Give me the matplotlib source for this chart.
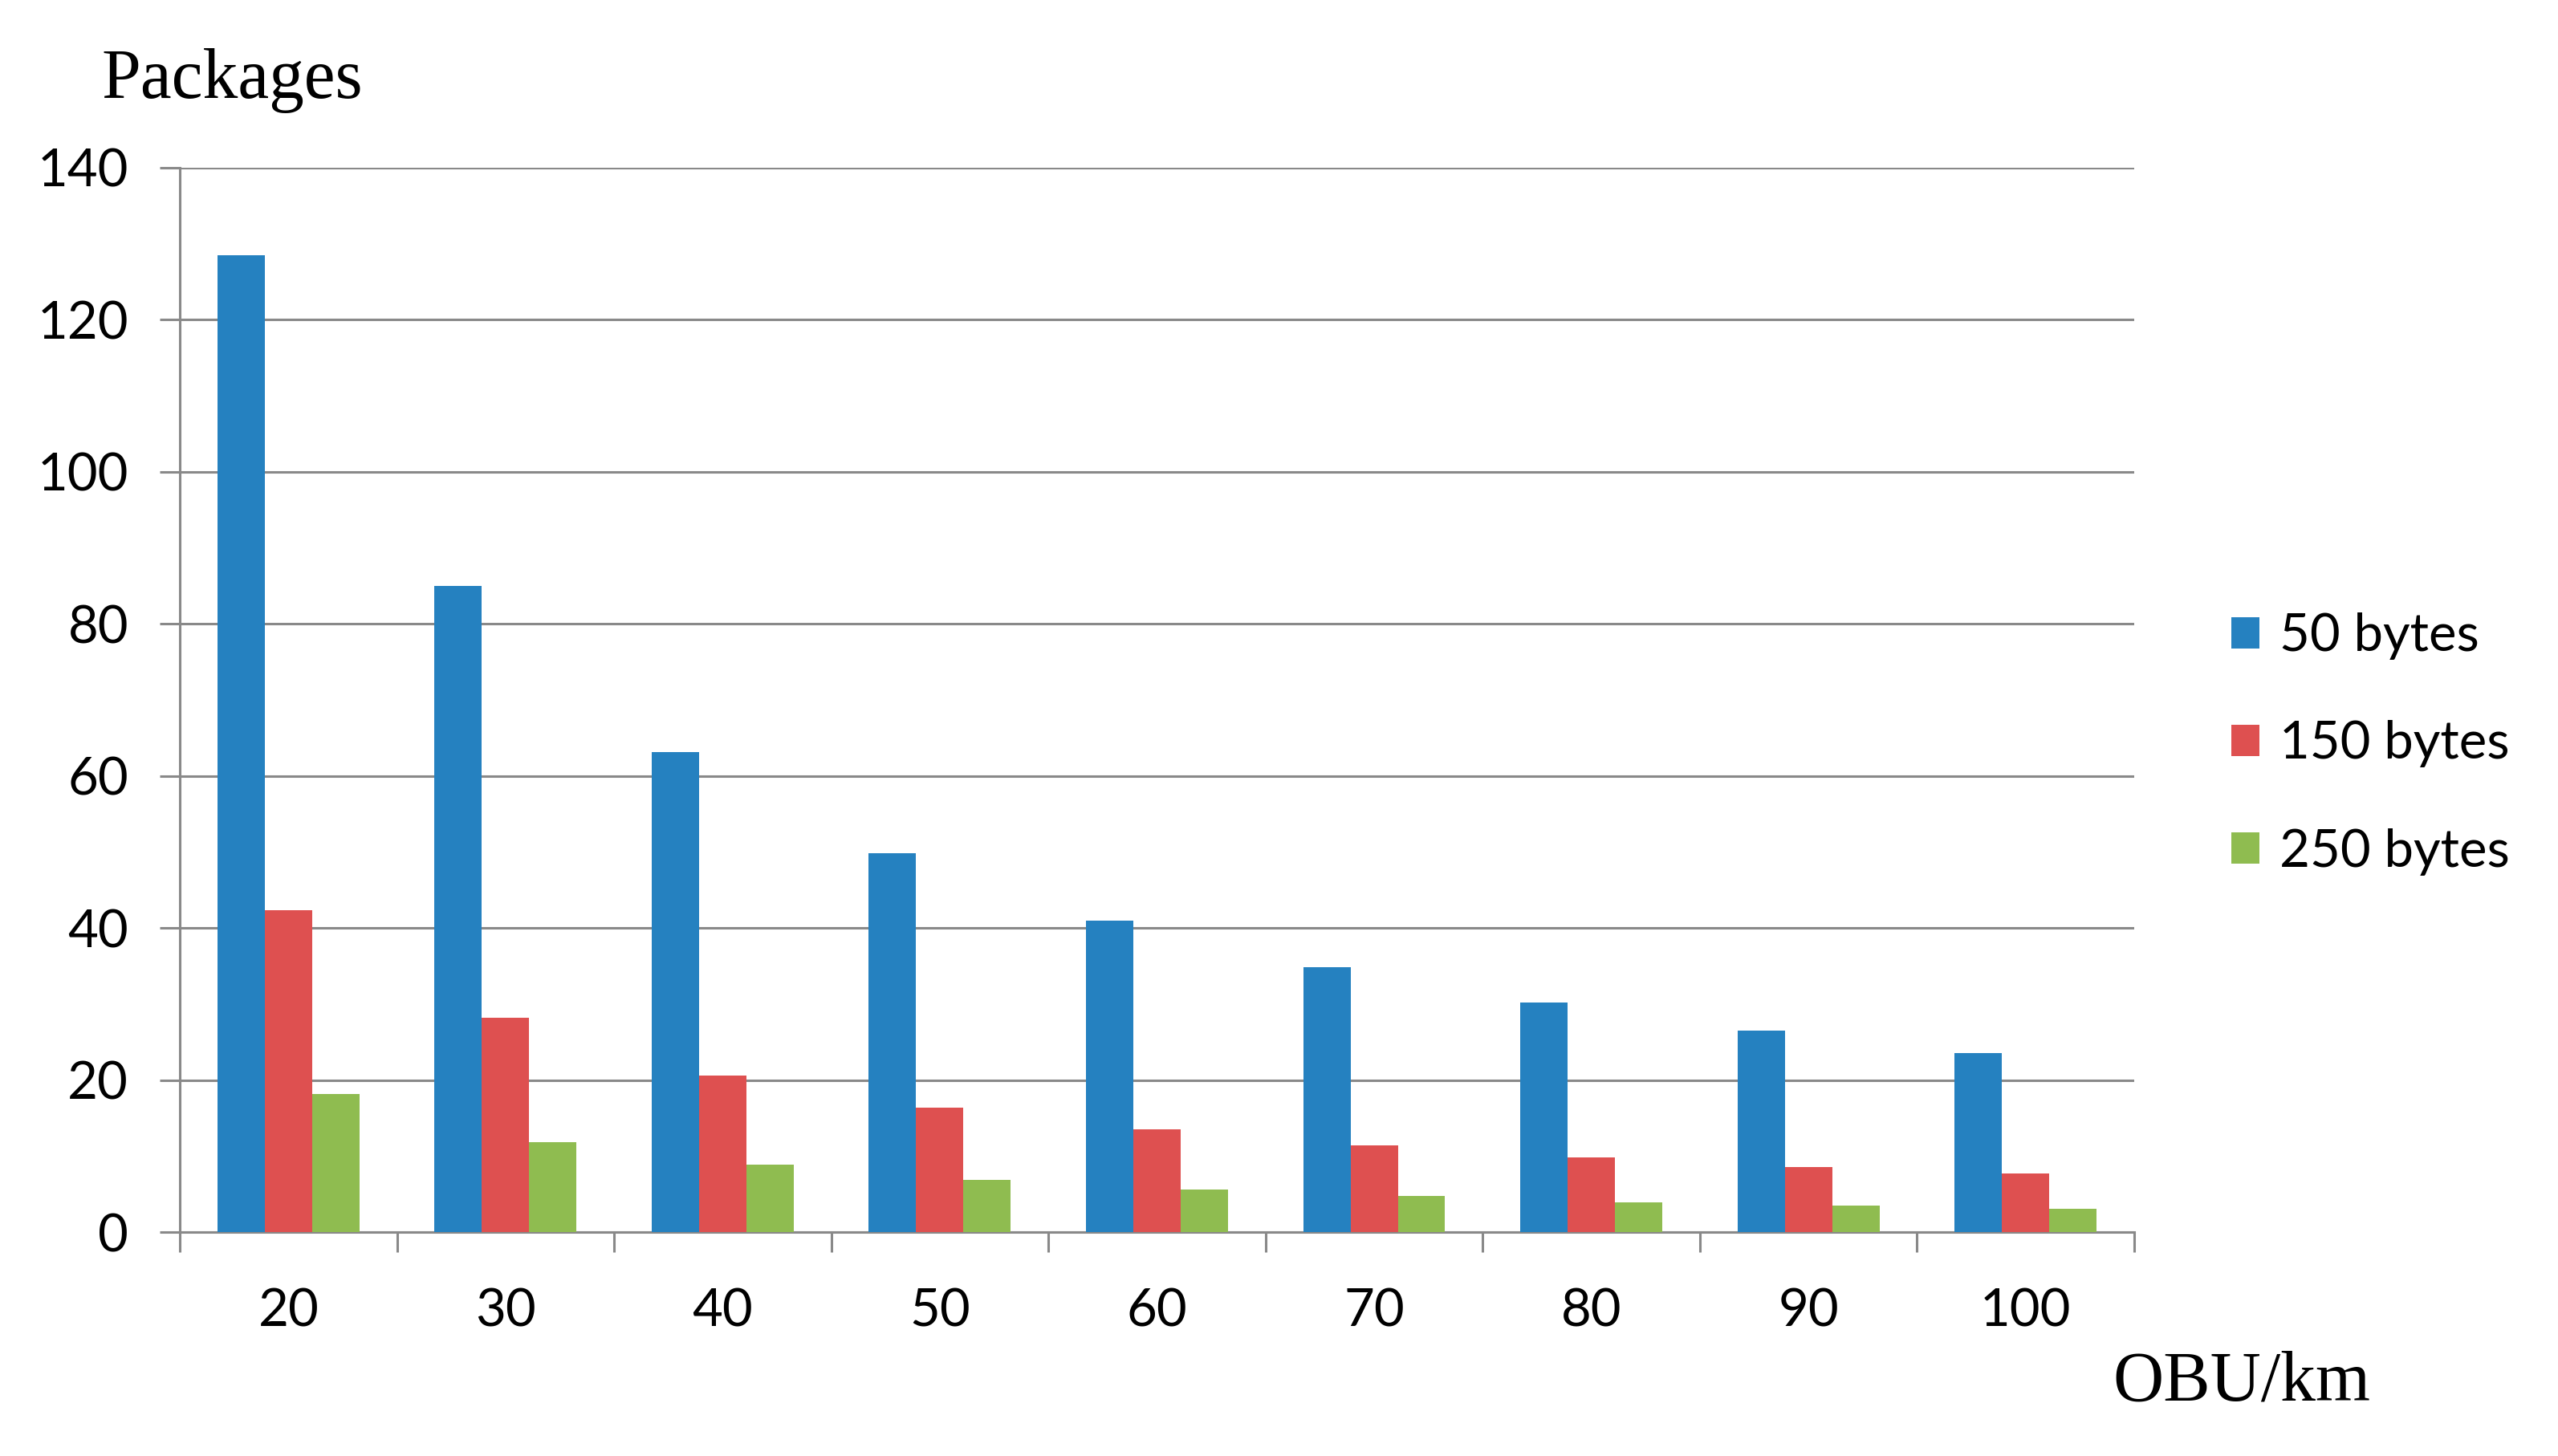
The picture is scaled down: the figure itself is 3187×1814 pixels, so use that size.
import numpy as np
from matplotlib import pyplot as plt
from matplotlib.ticker import FixedLocator, NullFormatter, FixedFormatter

# values
density = ["20", "30", "40", "50", "60", "70", "80", "90", "100"]
bytes_50 = [128.5, 85.0, 63.1, 49.8, 41.0, 34.8, 30.2, 26.5, 23.5]
bytes_150 = [42.3, 28.2, 20.6, 16.4, 13.5, 11.4, 9.8, 8.5, 7.7]
bytes_250 = [18.2, 11.8, 8.9, 6.9, 5.6, 4.8, 3.9, 3.5, 3.1]
series_names = ["50 bytes", "150 bytes", "250 bytes"]
series_colors = ["#2581c0", "#de5050", "#8fbc50"]

grid_gray = "#898989"
sans = ["Lato", "DejaVu Sans"]
serif = ["Liberation Serif", "DejaVu Serif"]

fig = plt.figure(figsize=(31.87, 18.14), dpi=100)
ax = fig.add_axes([0.0703, 0.1538, 0.7640, 0.7310])

x = np.arange(len(density))
w = 0.218
for k, vals in enumerate([bytes_50, bytes_150, bytes_250]):
    ax.bar(x + (k - 1) * w, vals, width=w, color=series_colors[k],
           label=series_names[k], zorder=3)

ax.set_xlim(-0.5, len(density) - 0.5)
ax.set_ylim(0, 140)

# y axis
ax.set_yticks(np.arange(0, 141, 20))
ax.yaxis.grid(True, color=grid_gray, linewidth=2.2, zorder=0)
ax.tick_params(axis="y", length=18, width=2.2, color=grid_gray, pad=28,
               labelsize=47)

# x axis: ticks at the group borders, labels in the middle
ax.xaxis.set_major_locator(FixedLocator(np.arange(-0.5, len(density), 1.0)))
ax.xaxis.set_major_formatter(NullFormatter())
ax.xaxis.set_minor_locator(FixedLocator(x))
ax.xaxis.set_minor_formatter(FixedFormatter(density))
ax.tick_params(axis="x", which="major", length=18, width=2.2, color=grid_gray)
ax.tick_params(axis="x", which="minor", length=0, pad=50, labelsize=47)

for lab in ax.get_yticklabels() + ax.get_xticklabels(minor=True):
    lab.set_family(sans)

for s in ["top", "right"]:
    ax.spines[s].set_visible(False)
for s in ["left", "bottom"]:
    ax.spines[s].set_color(grid_gray)
    ax.spines[s].set_linewidth(2.2)

fig.text(126 / 3187, 1 - 122 / 1814, "Packages", family=serif, fontsize=63,
         ha="left", va="baseline")
fig.text(2632 / 3187, 1 - 1744 / 1814, "OBU/km", family=serif, fontsize=63,
         ha="left", va="baseline")

fig.legend(loc="center left", bbox_to_anchor=(2780 / 3187, 1 - 927 / 1814),
           frameon=False, prop={"family": sans, "size": 47},
           handlelength=0.54, handleheight=0.54, handletextpad=0.38,
           labelspacing=1.15, borderpad=0, borderaxespad=0)

plt.savefig("out.png", dpi=100)
